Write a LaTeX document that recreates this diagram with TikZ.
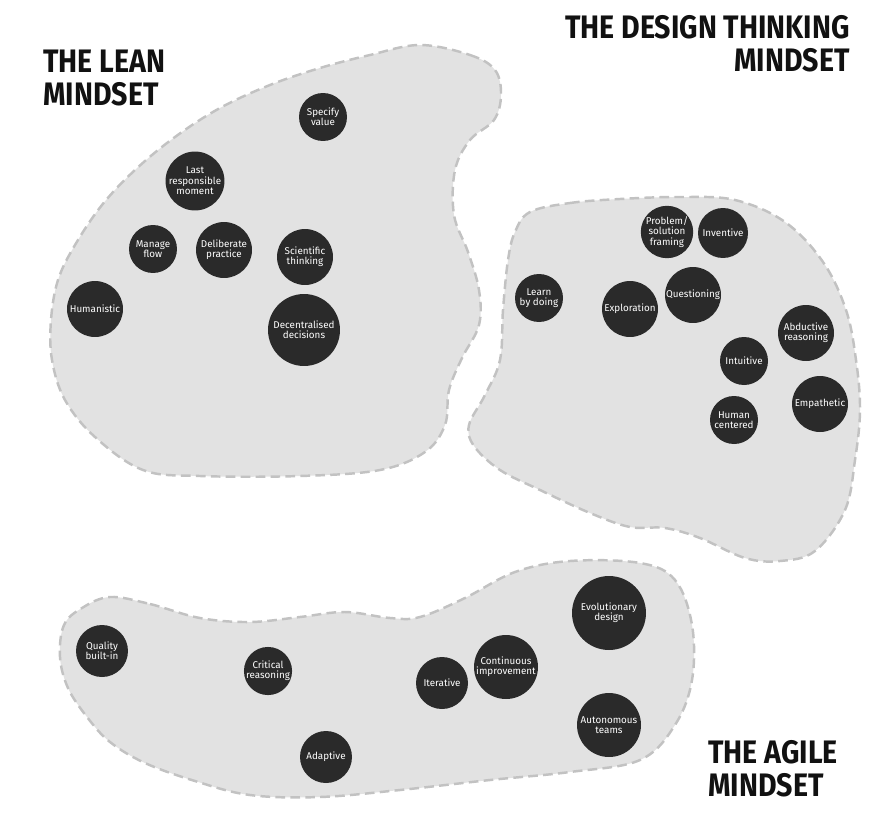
\documentclass[tikz,border=0pt]{standalone}
\usepackage{fontspec}
\setmainfont{Fira Sans}
\newfontfamily\titlefont[FakeStretch=0.88]{Fira Sans}
\usepackage{xcolor}
\definecolor{mdblob}{RGB}{226, 226, 226}
\definecolor{mdedge}{RGB}{194, 194, 194}
\definecolor{mddark}{RGB}{42, 42, 42}
\definecolor{mdtitle}{RGB}{17, 17, 17}
\usetikzlibrary{positioning}

\begin{document}
\begin{tikzpicture}[
    x=0.02cm, y=-0.02cm,
    blob/.style={fill=mdblob, draw=mdedge, line width=1.4pt, dash pattern=on 5.5pt off 3pt},
    concept/.style={circle, fill=mddark, text=white, minimum size=#1, inner sep=0pt,
        align=center, font=\fontsize{5.6}{5.9}\selectfont},
    mindset/.style={inner sep=0pt, text=mdtitle, font=\titlefont\bfseries\fontsize{18.5}{18.7}\selectfont}
]
\useasboundingbox (0,0) rectangle (885,818);

% Lean blob
\draw[blob] plot[smooth cycle, tension=0.6] coordinates {
    (420,45) (470,55) (495,70) (501,95) (494,120) (470,140) (455,170) (454,215)
    (468,252) (479,290) (479,325) (462,358) (449,390) (445,425) (425,452) (380,470)
    (300,476) (200,476) (143,470) (95,437) (65,400) (52,360) (51,320) (58,280)
    (75,245) (102,205) (135,170) (175,137) (220,108) (270,85) (320,68) (370,55)};

% Design thinking blob
\draw[blob] plot[smooth cycle, tension=0.6] coordinates {
    (530,212) (570,203) (620,199) (680,197) (735,200) (785,222) (823,262) (846,310)
    (856,360) (860,410) (855,460) (845,510) (815,551) (780,561) (745,558) (700,538)
    (665,528) (630,527) (590,513) (540,490) (500,470) (474,446) (469,425) (485,395)
    (500,360) (503,310) (508,260) (515,232)};

% Agile blob
\draw[blob] plot[smooth cycle, tension=0.6] coordinates {
    (110,597) (150,604) (200,618) (250,622) (300,617) (345,612) (390,618) (420,617)
    (465,598) (515,572) (570,561) (640,563) (675,580) (692,625) (692,680) (675,725)
    (640,760) (570,772) (490,780) (400,790) (320,797) (250,795) (195,781) (145,763)
    (110,742) (87,717) (68,688) (60,657) (64,625) (82,608)};

% Titles
\node[mindset, anchor=north west, align=left] (leantitle) at (43,50) {THE LEAN\\MINDSET};
\node[mindset, anchor=north east, align=right] (dttitle) at (850,15) {THE DESIGN THINKING\\MINDSET};
\node[mindset, anchor=north west, align=left] (agiletitle) at (708,740) {THE AGILE\\MINDSET};

% Lean
\node[concept=0.96cm] (specify) at (323,117) {Specify\\value};
\node[concept=1.12cm] (lastmoment) at (195,181) {Last\\responsible\\moment};
\node[concept=0.96cm] (manageflow) at (153,249) {Manage\\flow};
\node[concept=1.12cm] (deliberate) at (224,250) {Deliberate\\practice};
\node[concept=1.12cm] (scientific) at (305,257) {Scientific\\thinking};
\node[concept=1.12cm] (humanistic) at (95,309) {Humanistic};
\node[concept=1.44cm] (decentral) at (304,330) {Decentralised\\decisions};

% Design thinking
\node[concept=1.04cm] (framing) at (667,232) {Problem/\\solution\\framing};
\node[concept=1.00cm] (inventive) at (723,233) {Inventive};
\node[concept=0.96cm] (learndoing) at (539,298) {Learn\\by doing};
\node[concept=1.12cm] (exploration) at (630,309) {Exploration};
\node[concept=1.12cm] (questioning) at (693,295) {Questioning};
\node[concept=1.12cm] (abductive) at (806,333) {Abductive\\reasoning};
\node[concept=0.96cm] (intuitive) at (744,361) {Intuitive};
\node[concept=1.12cm] (empathetic) at (820,404) {Empathetic};
\node[concept=0.96cm] (humancentered) at (734,420) {Human\\centered};

% Agile
\node[concept=1.04cm] (quality) at (102,651) {Quality\\built-in};
\node[concept=0.96cm] (critical) at (268,671) {Critical\\reasoning};
\node[concept=1.04cm] (adaptive) at (326,757) {Adaptive};
\node[concept=1.04cm] (iterative) at (442,683) {Iterative};
\node[concept=1.28cm] (continuous) at (506,667) {Continuous\\improvement};
\node[concept=1.48cm] (evolutionary) at (609,613) {Evolutionary\\design};
\node[concept=1.28cm] (autonomous) at (609,725) {Autonomous\\teams};

\end{tikzpicture}
\end{document}
